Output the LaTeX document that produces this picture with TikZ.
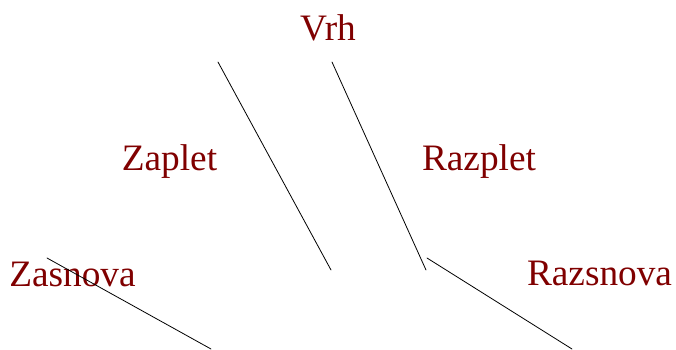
\documentclass[tikz,border=0pt]{standalone}
\usepackage{fontspec}
\setmainfont{Liberation Serif}
\definecolor{stage}{HTML}{800000}
\begin{document}
\begin{tikzpicture}[x=1pt,y=-1pt,line join=round,line cap=round,
	lbl/.style={anchor=base,inner sep=0pt,text=stage,font=\fontsize{37.3}{40}\selectfont}]
		\useasboundingbox (0,0) rectangle (676,349);
		\foreach \n/\p/\t in {vrh/{328,40}/Vrh,zaplet/{169.5,170}/Zaplet,razplet/{479,170}/Razplet,zasnova/{72.5,286}/Zasnova,razsnova/{599.5,285}/Razsnova}
			\node[lbl] (\n) at (\p) {\t};
		\coordinate (a1) at (218,62); \coordinate (a2) at (331,270);
		\coordinate (b1) at (332,62); \coordinate (b2) at (426,270);
		\coordinate (c1) at (47,258); \coordinate (c2) at (211,349);
		\coordinate (d1) at (427,258); \coordinate (d2) at (572,349);
		\draw[line width=0.8pt] (a1)--(a2) (b1)--(b2) (c1)--(c2) (d1)--(d2);
	\end{tikzpicture}
\end{document}
